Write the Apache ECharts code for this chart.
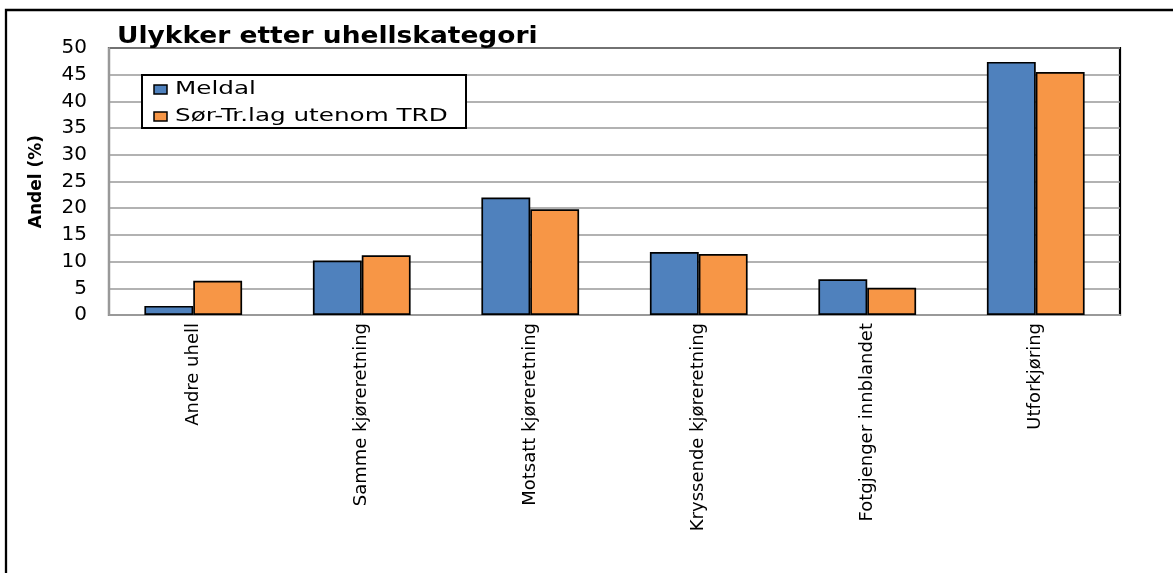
<!DOCTYPE html>
<html><head><meta charset="utf-8">
<script src="https://cdn.jsdelivr.net/npm/echarts@6/dist/echarts.min.js"></script>
<style>html,body{margin:0;padding:0;background:#fff}#c{width:1173px;height:573px}</style>
</head><body><div id="c"></div>
<script>
const categories = ['Andre uhell','Samme kjøreretning','Motsatt kjøreretning','Kryssende kjøreretning','Fotgjenger innblandet','Utforkjøring'];
const meldal = [1.7, 10.2, 22.0, 11.8, 6.7, 47.4];
const sorTr = [6.4, 11.2, 19.8, 11.4, 5.1, 45.5];
const seriesNames = ['Meldal','Sør-Tr.lag utenom TRD'];
const seriesColors = ['#4F81BD','#F79646'];
const titleText = 'Ulykker etter uhellskategori';
const yAxisName = 'Andel (%)';
const yTicks = {min:0, max:50, interval:5};

const FONT = '"DejaVu Sans", "Liberation Sans", sans-serif';
const chart = echarts.init(document.getElementById('c'), null, {renderer:'canvas'});

const legendEls = [];
seriesNames.forEach((n,i)=>{
  const y0 = 85 + i*27;
  legendEls.push({type:'rect', z:11, shape:{x:154, y:y0, width:13, height:9},
    style:{fill:seriesColors[i], stroke:'#000', lineWidth:1.5}});
  legendEls.push({type:'text', z:11, x:175, y:y0+4.5, scaleX:1.45, originX:0,
    style:{text:n, fontFamily:FONT, fontSize:17, fill:'#000', verticalAlign:'middle', align:'left'}});
});

chart.setOption({
  animation:false,
  backgroundColor:'#fff',
  textStyle:{fontFamily:FONT},
  graphic:[
    {type:'rect', shape:{x:6, y:10, width:1200, height:600}, style:{fill:'none', stroke:'#000', lineWidth:2.3}, silent:true, z:-1},
    {type:'text', x:117, y:37, scaleX:1.15, originX:0, style:{text:titleText, fontFamily:FONT, fontSize:23, fontWeight:'bold', fill:'#000', verticalAlign:'middle', align:'left'}, z:10},
    {type:'rect', shape:{x:142, y:75, width:324, height:53}, style:{fill:'#fff', stroke:'#000', lineWidth:2}, z:10}
  ].concat(legendEls),
  grid:{left:109, right:53, top:48, bottom:258, show:true, borderColor:'#000', borderWidth:2.2, backgroundColor:'#fff'},
  xAxis:{type:'category', data:categories,
    axisLine:{lineStyle:{color:'#999', width:2}}, axisTick:{show:false},
    axisLabel:{rotate:90, margin:8, fontFamily:FONT, fontSize:18, color:'#000', interval:0}},
  yAxis:{type:'value', min:yTicks.min, max:yTicks.max, interval:yTicks.interval,
    name:yAxisName, nameLocation:'middle', nameGap:64, nameRotate:90,
    nameTextStyle:{fontFamily:FONT, fontSize:17, fontWeight:'bold', color:'#000'},
    axisLine:{show:true, lineStyle:{color:'#999', width:2}}, axisTick:{show:false},
    axisLabel:{margin:22, fontFamily:FONT, fontSize:20, color:'#000'},
    splitLine:{lineStyle:{color:'#999', width:1.6}}},
  series:[
    {name:seriesNames[0], type:'bar', data:meldal, barGap:'0%', barCategoryGap:'42%',
      itemStyle:{color:seriesColors[0], borderColor:'#000', borderWidth:1.7}},
    {name:seriesNames[1], type:'bar', data:sorTr, barGap:'0%', barCategoryGap:'42%',
      itemStyle:{color:seriesColors[1], borderColor:'#000', borderWidth:1.7}}
  ]
});
</script></body></html>
